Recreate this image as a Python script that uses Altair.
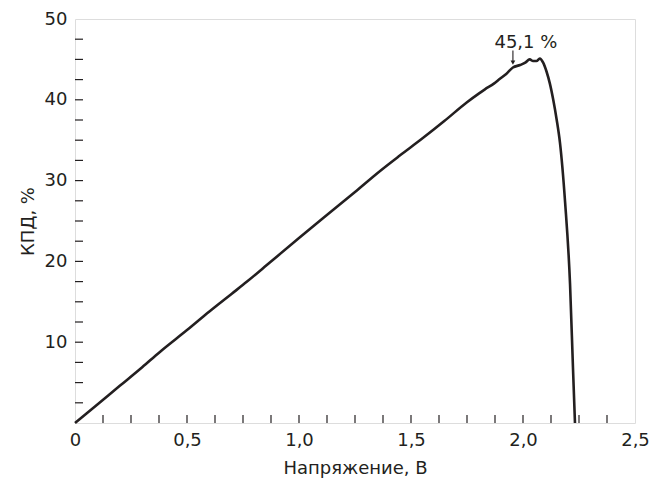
import altair as alt
import pandas as pd

# Curve: voltage (V) vs efficiency (%)
voltage = [0, 0.1, 0.2, 0.3, 0.379, 0.5, 0.6, 0.7, 0.768, 0.871, 1.0, 1.1, 1.25,
           1.362, 1.45, 1.55, 1.65, 1.75, 1.804, 1.83, 1.87, 1.897, 1.925, 1.955,
           1.987, 2.01, 2.03, 2.045, 2.06, 2.075, 2.09, 2.105, 2.12, 2.135, 2.15,
           2.165, 2.188, 2.21, 2.223, 2.232]
efficiency = [0, 2.3, 4.6, 6.9, 8.8, 11.5, 13.8, 16.0, 17.5, 19.9, 22.9, 25.2, 28.6,
              31.2, 33.1, 35.2, 37.4, 39.7, 40.8, 41.3, 42.0, 42.6, 43.2, 44.0,
              44.3, 44.6, 45.0, 44.8, 44.8, 45.1, 44.6, 43.5, 42.0, 40.0, 37.6,
              34.7, 27.3, 17.2, 6.9, 0]

x_minor_ticks = [0.125, 0.25, 0.375, 0.5, 0.625, 0.75, 0.875, 1.0, 1.125, 1.25,
                 1.375, 1.5, 1.625, 1.75, 1.875, 2.0, 2.125, 2.25, 2.375]
y_minor_ticks = [2.5, 5, 7.5, 10, 12.5, 15, 17.5, 20, 22.5, 25, 27.5, 30, 32.5,
                 35, 37.5, 40, 42.5, 45, 47.5]
y_label_values = [10, 20, 30, 40, 50]
x_label_values = [0, 0.5, 1.0, 1.5, 2.0, 2.5]

annot_text = ["45,1 %"]
annot_text_x = [2.013]
annot_text_y = [46.4]
arrow_x = [1.955]
arrow_top = [46.1]
arrow_tip = [44.6]

INK = "#231f20"
FONT = "DejaVu Sans"
W, H = 560, 404

curve = pd.DataFrame({"V": voltage, "E": efficiency})
xt = pd.DataFrame({"t": x_minor_ticks})
yt = pd.DataFrame({"t": y_minor_ticks})
ann = pd.DataFrame({"label": annot_text, "x": annot_text_x, "y": annot_text_y})
arr = pd.DataFrame({"x": arrow_x, "y1": arrow_top, "y2": arrow_tip})

xscale = alt.Scale(domain=[0, 2.5], nice=False)
yscale = alt.Scale(domain=[0, 50], nice=False)

line = alt.Chart(curve).mark_line(color=INK, strokeWidth=2.6, interpolate="monotone").encode(
    x=alt.X("V:Q", scale=xscale, axis=alt.Axis(
        values=x_label_values, title="Напряжение, В", ticks=False, domain=False, grid=False,
        labelExpr="datum.value == 0 ? '0' : replace(format(datum.value, '.1f'), '.', ',')",
        labelPadding=8, labelFontSize=18, labelFont=FONT, labelColor=INK,
        titleFontSize=18, titleFont=FONT, titleColor=INK, titleFontWeight="normal",
        titleY=50, titleBaseline="alphabetic", labelFlush=False)),
    y=alt.Y("E:Q", scale=yscale, axis=alt.Axis(
        values=y_label_values, title="КПД, %", ticks=False, domain=False, grid=False,
        labelPadding=8, labelFontSize=18, labelFont=FONT, labelColor=INK,
        titleFontSize=18, titleFont=FONT, titleColor=INK, titleFontWeight="normal",
        titleX=-47, titleBaseline="middle", labelFlush=False)),
)

xticks = alt.Chart(xt).mark_rule(color=INK, strokeWidth=1.2).encode(
    x=alt.X("t:Q", scale=xscale),
    y=alt.value(H), y2=alt.value(H - 8),
)
yticks = alt.Chart(yt).mark_rule(color=INK, strokeWidth=1.2).encode(
    y=alt.Y("t:Q", scale=yscale),
    x=alt.value(0), x2=alt.value(8),
)

label = alt.Chart(ann).mark_text(font=FONT, fontSize=18, color=INK, baseline="alphabetic",
                                 align="center").encode(
    x=alt.X("x:Q", scale=xscale), y=alt.Y("y:Q", scale=yscale), text="label:N")

arrow_line = alt.Chart(arr).mark_rule(color=INK, strokeWidth=1.1).encode(
    x=alt.X("x:Q", scale=xscale), y=alt.Y("y1:Q", scale=yscale), y2="y2:Q")
arrow_head = alt.Chart(arr).mark_point(shape="triangle-down", filled=True, color=INK,
                                       size=22, opacity=1).encode(
    x=alt.X("x:Q", scale=xscale), y=alt.Y("y2:Q", scale=yscale))

chart = alt.layer(xticks, yticks, line, label, arrow_line, arrow_head).properties(
    width=W, height=H,
    padding={"left": 67, "top": 11, "right": 16, "bottom": 56},
    autosize=alt.AutoSizeParams(type="none"),
).configure_view(stroke=INK, strokeWidth=1.6).configure(background="white")

chart.save("out.html", embed_options={"renderer": "svg", "actions": False})
